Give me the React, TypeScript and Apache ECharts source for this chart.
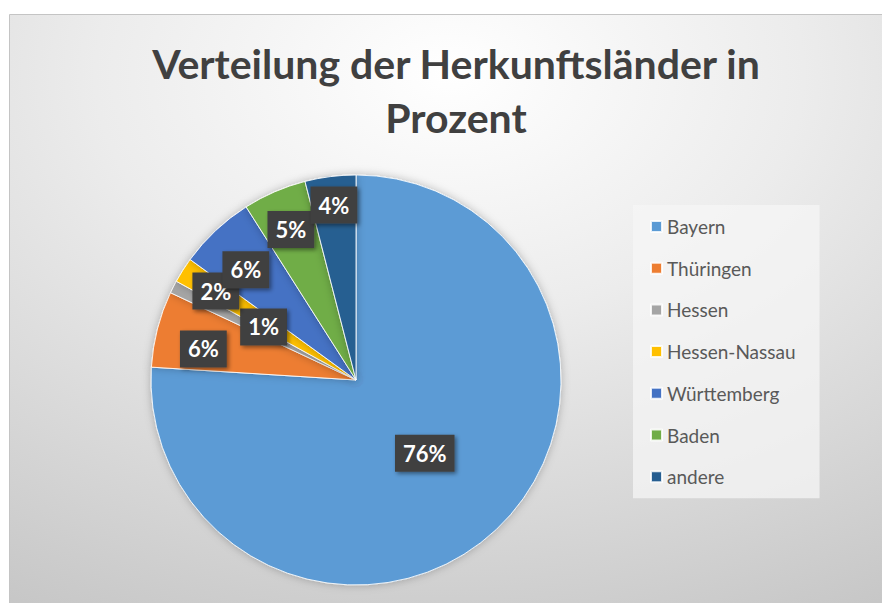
import React, { useEffect, useRef } from "react";
import * as echarts from "echarts";

const TITLE = "Verteilung der Herkunftsländer in\nProzent";
const categories = ["Bayern", "Thüringen", "Hessen", "Hessen-Nassau", "Württemberg", "Baden", "andere"];
const values = [76, 6, 1, 2, 6, 5, 4];
const colors = ["#5B9BD5", "#ED7D31", "#A5A5A5", "#FFC000", "#4472C4", "#70AD47", "#255E91"];
// radial placement of each data label as a fraction of the pie radius (layout only)
const labelRadiusFactor = [0.49, 0.76, 0.52, 0.81, 0.76, 0.8, 0.86];
// small angular nudges of the labels, in percent of the circle (layout only)
const labelAngleNudge = [0, -0.8, 0.8, 0, -0.5, 0, 0];

const CENTER = [356, 380];
const RADIUS = 205;

export default function App() {
  const ref = useRef<HTMLDivElement>(null);
  useEffect(() => {
    if (!ref.current) return;
    const chart = echarts.init(ref.current, null, { renderer: "svg" });
    const total = values.reduce((a, b) => a + b, 0);
    const cum: number[] = [];
    let acc = 0;
    values.forEach((v) => {
      cum.push(acc + v / 2);
      acc += v;
    });
    chart.setOption({
      animation: false,
      backgroundColor: "#ffffff",
      graphic: [
        {
          type: "rect",
          z: -10,
          silent: true,
          shape: { x: 9.5, y: 14.5, width: 880, height: 600 },
          style: {
            fill: new echarts.graphic.RadialGradient(0.5, 0.1, 1.15, [
              { offset: 0, color: "#ffffff" },
              { offset: 0.35, color: "#ececec" },
              { offset: 1, color: "#bebebe" },
            ]),
            stroke: "#c4c4c4",
            lineWidth: 1,
          },
        },
      ],
      title: {
        text: TITLE,
        left: 451,
        top: 31,
        textAlign: "center",
        textStyle: {
          fontFamily: "Lato",
          fontWeight: "bold",
          fontSize: 41,
          lineHeight: 54,
          color: "#404040",
        },
      },
      legend: {
        orient: "vertical",
        left: 633,
        top: 205,
        padding: [11, 24, 11, 17],
        backgroundColor: "rgba(245,245,245,0.75)",
        itemWidth: 11,
        itemHeight: 11,
        itemGap: 20.7,
        icon: "rect",
        data: categories,
        textStyle: {
          fontFamily: "Lato",
          fontSize: 19,
          lineHeight: 21,
          color: "#595959",
        },
      },
      series: [
        {
          type: "pie",
          center: CENTER,
          radius: RADIUS,
          startAngle: 90,
          clockwise: true,
          avoidLabelOverlap: false,
          itemStyle: {
            borderColor: "rgba(255,255,255,0.85)",
            borderWidth: 1,
            shadowBlur: 8,
            shadowColor: "rgba(0,0,0,0.25)",
          },
          label: {
            show: true,
            position: "inside",
            formatter: (p: any) => `${p.value}%`,
            fontFamily: "Lato",
            fontWeight: "bold",
            fontSize: 22,
            color: "#ffffff",
            backgroundColor: "#404040",
            padding: [8, 8, 7, 8],
            shadowBlur: 4,
            shadowOffsetX: 2,
            shadowOffsetY: 2,
            shadowColor: "rgba(0,0,0,0.45)",
          },
          labelLine: { show: false },
          labelLayout: (params: any) => {
            const i = params.dataIndex;
            const ang = ((cum[i] + labelAngleNudge[i]) / total) * 2 * Math.PI;
            const r = RADIUS * labelRadiusFactor[i];
            return {
              x: CENTER[0] + r * Math.sin(ang),
              y: CENTER[1] - r * Math.cos(ang),
              align: "center",
              verticalAlign: "middle",
            };
          },
          data: categories.map((name, i) => ({
            name,
            value: values[i],
            itemStyle: { color: colors[i] },
          })),
        },
      ],
    });
    return () => chart.dispose();
  }, []);
  return (
    <div style={{ position: "absolute", left: 0, top: 0 }}>
      <div ref={ref} style={{ width: 882, height: 603 }} />
    </div>
  );
}
